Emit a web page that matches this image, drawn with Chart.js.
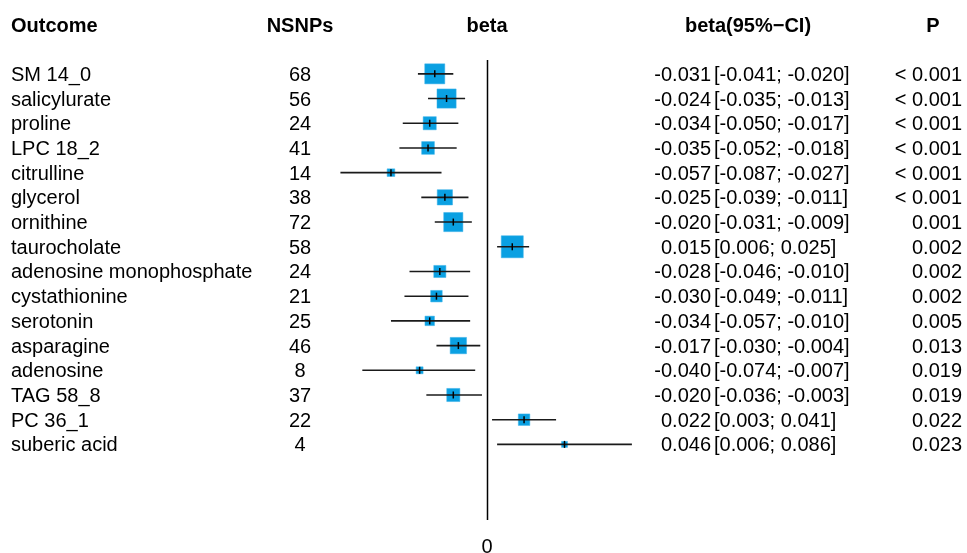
<!DOCTYPE html>
<html>
<head>
<meta charset="utf-8">
<script src="https://cdn.jsdelivr.net/npm/chart.js@4/dist/chart.umd.min.js"></script>
<style>
  html, body { margin: 0; padding: 0; background: #fff; }
  #wrap { width: 967px; height: 553px; }
</style>
</head>
<body>
<div id="wrap"><canvas id="chart" width="967" height="553"></canvas></div>
<script>
const outcomes = ['SM 14_0', 'salicylurate', 'proline', 'LPC 18_2', 'citrulline', 'glycerol',
    'ornithine', 'taurocholate', 'adenosine monophosphate', 'cystathionine', 'serotonin',
    'asparagine', 'adenosine', 'TAG 58_8', 'PC 36_1', 'suberic acid'];
const nsnps = [68, 56, 24, 41, 14, 38, 72, 58, 24, 21, 25, 46, 8, 37, 22, 4];
const beta = [-0.031, -0.024, -0.034, -0.035, -0.057, -0.025, -0.020, 0.015, -0.028, -0.030,
    -0.034, -0.017, -0.040, -0.020, 0.022, 0.046];
const lower = [-0.041, -0.035, -0.050, -0.052, -0.087, -0.039, -0.031, 0.006, -0.046, -0.049,
    -0.057, -0.030, -0.074, -0.036, 0.003, 0.006];
const upper = [-0.020, -0.013, -0.017, -0.018, -0.027, -0.011, -0.009, 0.025, -0.010, -0.011,
    -0.010, -0.004, -0.007, -0.003, 0.041, 0.086];
const pvals = ['< 0.001', '< 0.001', '< 0.001', '< 0.001', '< 0.001', '< 0.001', '0.001', '0.002',
    '0.002', '0.002', '0.005', '0.013', '0.019', '0.019', '0.022', '0.023'];
const headers = ['Outcome', 'NSNPs', 'beta', 'beta(95%\u2212CI)', 'P'];

const FONT = 'Arial, "Liberation Sans", sans-serif';
const ctx = document.getElementById('chart').getContext('2d');

// box side grows with precision (1 / CI width)
const boxSide = beta.map((b, i) => 0.40 / (upper[i] - lower[i]) + 1);

const ciDatasets = beta.map((b, i) => ({
    type: 'line',
    data: [{ x: lower[i], y: i }, { x: upper[i], y: i }],
    borderColor: '#1a1a1a',
    borderWidth: 1.6,
    pointRadius: 0,
    order: 1,
}));

const fmt = v => v.toFixed(3);

const textPlugin = {
    id: 'forestText',
    afterDraw(chart) {
        const c = chart.ctx;
        const xs = chart.scales.x;
        const ys = chart.scales.y;
        c.save();
        c.fillStyle = '#000';
        c.textBaseline = 'middle';

        // header row
        c.font = 'bold 20px ' + FONT;
        c.textAlign = 'left';
        c.fillText(headers[0], 11, 26);
        c.textAlign = 'center';
        c.fillText(headers[1], 300, 26);
        c.fillText(headers[2], xs.getPixelForValue(0), 26);
        c.fillText(headers[3], 748, 26);
        c.fillText(headers[4], 933, 26);

        // rows
        c.font = '20px ' + FONT;
        outcomes.forEach((name, i) => {
            const y = ys.getPixelForValue(i) + 1.5;
            c.textAlign = 'left';
            c.fillText(name, 11, y);
            c.textAlign = 'center';
            c.fillText(String(nsnps[i]), 300, y);
            c.textAlign = 'right';
            c.fillText(fmt(beta[i]), 711, y);
            c.textAlign = 'left';
            c.fillText('[' + fmt(lower[i]) + '; ' + fmt(upper[i]) + ']', 714, y);
            c.textAlign = 'right';
            c.fillText(pvals[i], 962, y);
        });

        // x axis label "0"
        c.textAlign = 'center';
        c.fillText('0', xs.getPixelForValue(0), 547);
        c.restore();
    },
    beforeDatasetsDraw(chart) {
        const c = chart.ctx;
        const xs = chart.scales.x;
        const a = chart.chartArea;
        const x0 = Math.round(xs.getPixelForValue(0)) + 0.5;
        c.save();
        c.strokeStyle = '#000';
        c.lineWidth = 1.5;
        c.beginPath();
        c.moveTo(x0, a.top);
        c.lineTo(x0, a.bottom);
        c.stroke();
        c.restore();
    },
};

new Chart(ctx, {
    type: 'scatter',
    data: {
        datasets: [
            {
                label: 'estimate',
                data: beta.map((b, i) => ({ x: b, y: i })),
                pointStyle: 'line',
                rotation: 90,
                pointRadius: 3.5,
                borderColor: '#000',
                borderWidth: 1.5,
                order: 0,
            },
            ...ciDatasets,
            {
                label: 'box',
                data: beta.map((b, i) => ({ x: b, y: i })),
                pointStyle: 'rect',
                pointRadius: boxSide.map(s => s / Math.SQRT2),
                backgroundColor: '#0aa0e2',
                borderColor: '#3fb3e8',
                borderWidth: 0.5,
                order: 2,
            },
        ],
    },
    options: {
        responsive: false,
        animation: false,
        events: [],
        layout: { padding: { left: 332, right: 325, top: 60, bottom: 33 } },
        scales: {
            x: { type: 'linear', min: -0.092, max: 0.092, display: false },
            y: { type: 'linear', reverse: true, min: -0.56, max: 18.06, display: false },
        },
        plugins: {
            legend: { display: false },
            tooltip: { enabled: false },
        },
    },
    plugins: [textPlugin],
});
</script>
</body>
</html>
